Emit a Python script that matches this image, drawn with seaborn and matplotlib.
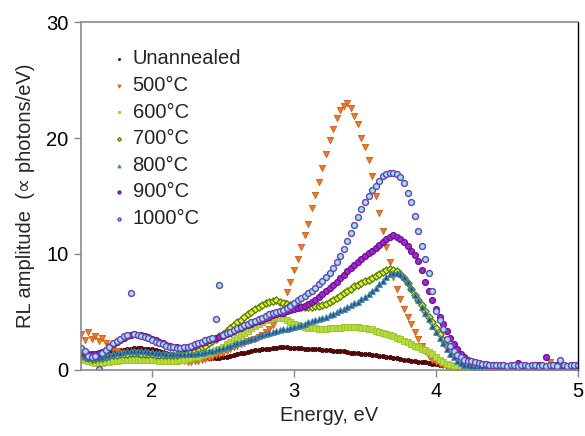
import numpy as np
import pandas as pd
import matplotlib
matplotlib.use("Agg")
import matplotlib.pyplot as plt
import seaborn as sns

# Energy grid (eV), 0.025 eV steps from 1.5 to 5.0
energy = np.round(np.arange(1.5, 5.0001, 0.025), 3)

unannealed = [
    1.3, 1.2, 1.1, 1.1, 1.1, 1.2, 1.3, 1.4, 1.5, 1.6,
    1.65, 1.7, 1.75, 1.8, 1.85, 1.9, 1.9, 1.9, 1.85, 1.85,
    1.8, 1.7, 1.65, 1.55, 1.5, 1.4, 1.35, 1.3, 1.2, 1.15,
    1.1, 1.05, 1.05, 1.0, 1.0, 1.0, 1.0, 1.0, 1.0, 1.05,
    1.1, 1.15, 1.2, 1.3, 1.35, 1.45, 1.5, 1.55, 1.6, 1.7,
    1.75, 1.8, 1.85, 1.85, 1.9, 1.9, 1.95, 1.95, 1.95, 1.9,
    1.9, 1.9, 1.9, 1.85, 1.85, 1.85, 1.8, 1.8, 1.75, 1.75,
    1.7, 1.65, 1.65, 1.6, 1.6, 1.55, 1.5, 1.5, 1.45, 1.4,
    1.35, 1.35, 1.3, 1.3, 1.2, 1.2, 1.15, 1.1, 1.05, 1.0,
    0.95, 0.9, 0.85, 0.8, 0.75, 0.7, 0.7, 0.65, 0.6, 0.55,
    0.5, 0.45, 0.4, 0.35, 0.3, 0.25, 0.2, 0.2, 0.2, 0.15,
    0.15, 0.15, 0.2, 0.15, 0.2, 0.15, 0.15, 0.2, 0.15, 0.2,
    0.15, 0.2, 0.2, 0.15, 0.2, 0.2, 0.15, 0.2, 0.2, 0.15,
    0.2, 0.15, 0.2, 0.2, 0.2, 0.15, 0.2, 0.2, 0.15, 0.2,
    0.2,
]

c500 = [
    3.1, 2.6, 3.3, 2.7, 2.9, 2.5, 2.8, 2.3, 2.1, 1.8,
    1.6, 1.5, 1.4, 1.3, 1.3, 1.2, 1.2, 1.2, 1.1, 1.1,
    1.0, 1.0, 0.95, 0.9, 0.9, 0.85, 0.8, 0.8, 0.75, 0.75,
    0.7, 0.7, 0.75, 0.8, 0.85, 0.95, 1.05, 1.15, 1.3, 1.4,
    1.5, 1.65, 1.8, 1.95, 2.1, 2.2, 2.35, 2.5, 2.6, 2.7,
    2.85, 3.0, 3.25, 3.5, 3.9, 4.4, 5.0, 5.8, 6.7, 7.6,
    8.6, 9.6, 10.6, 11.6, 12.6, 14.0, 15.1, 16.2, 17.4, 18.6,
    19.8, 20.8, 21.7, 22.4, 22.8, 23.0, 22.6, 21.9, 21.2, 20.0,
    19.2, 18.1, 16.7, 15.0, 13.5, 12.0, 10.6, 9.3, 8.0, 7.0,
    6.1, 5.3, 4.6, 4.0, 3.3, 2.7, 2.1, 1.6, 1.2, 0.9,
    0.7, 0.5, 0.4, 0.35, 0.3, 0.25, 0.3, 0.25, 0.3, 0.3,
    0.25, 0.3, 0.35, 0.3, 0.3, 0.35, 0.3, 0.3, 0.35, 0.3,
    0.3, 0.35, 0.3, 0.4, 0.3, 0.35, 0.3, 0.35, 0.4, 0.3,
    0.35, 0.3, 0.7, 0.35, 0.4, 0.3, 0.35, 0.3, 0.35, 0.3,
    0.35,
]

c600 = [
    1.0, 0.9, 0.8, 0.7, 0.6, 0.6, 0.6, 0.65, 0.7, 0.75,
    0.8, 0.85, 0.9, 0.9, 0.9, 0.9, 0.9, 0.9, 0.9, 0.9,
    0.85, 0.85, 0.8, 0.8, 0.8, 0.8, 0.8, 0.8, 0.85, 0.9,
    0.95, 1.0, 1.1, 1.15, 1.25, 1.35, 1.45, 1.55, 1.7, 1.85,
    2.0, 2.2, 2.4, 2.6, 2.8, 3.0, 3.2, 3.4, 3.6, 3.8,
    4.0, 4.15, 4.3, 4.4, 4.5, 4.55, 4.5, 4.45, 4.3, 4.15,
    4.0, 3.9, 3.8, 3.7, 3.65, 3.6, 3.6, 3.55, 3.55, 3.55,
    3.6, 3.6, 3.65, 3.65, 3.7, 3.7, 3.7, 3.7, 3.7, 3.65,
    3.6, 3.55, 3.5, 3.4, 3.3, 3.2, 3.1, 3.0, 2.9, 2.8,
    2.65, 2.5, 2.4, 2.25, 2.1, 1.95, 1.8, 1.7, 1.55, 1.4,
    1.15, 0.9, 0.65, 0.5, 0.4, 0.35, 0.3, 0.25, 0.25, 0.2,
    0.25, 0.2, 0.25, 0.2, 0.25, 0.25, 0.2, 0.25, 0.2, 0.25,
    0.2, 0.25, 0.2, 0.25, 0.25, 0.2, 0.25, 0.2, 0.25, 0.2,
    0.25, 0.2, 0.25, 0.2, 0.25, 0.25, 0.2, 0.25, 0.2, 0.25,
    0.3,
]

c700 = [
    1.3, 1.1, 1.0, 0.95, 0.95, 1.0, 1.05, 1.1, 1.2, 1.25,
    1.3, 1.35, 1.4, 1.4, 1.45, 1.45, 1.45, 1.4, 1.4, 1.35,
    1.35, 1.3, 1.3, 1.25, 1.25, 1.25, 1.3, 1.3, 1.35, 1.4,
    1.45, 1.55, 1.65, 1.8, 1.95, 2.1, 2.3, 2.5, 2.7, 2.9,
    3.1, 3.35, 3.6, 3.85, 4.1, 4.35, 4.6, 4.8, 5.0, 5.25,
    5.45, 5.6, 5.8, 5.9, 5.95, 6.0, 5.9, 5.8, 5.7, 5.6,
    5.5, 5.45, 5.4, 5.4, 5.4, 5.45, 5.5, 5.55, 5.6, 5.7,
    5.85, 6.0, 6.2, 6.4, 6.6, 6.8, 7.0, 7.2, 7.35, 7.5,
    7.65, 7.8, 7.95, 8.1, 8.3, 8.45, 8.6, 8.7, 8.65, 8.5,
    8.25, 7.9, 7.5, 7.0, 6.5, 6.0, 5.6, 5.1, 4.6, 4.1,
    3.6, 3.1, 2.6, 2.1, 1.7, 1.4, 1.1, 0.85, 0.65, 0.5,
    0.4, 0.35, 0.3, 0.3, 0.25, 0.3, 0.25, 0.3, 0.3, 0.25,
    0.3, 0.25, 0.3, 0.3, 0.25, 0.3, 0.3, 0.25, 0.3, 0.3,
    0.25, 0.3, 0.3, 0.25, 0.3, 0.3, 0.25, 0.3, 0.3, 0.25,
    0.4,
]

c800 = [
    1.4, 1.2, 1.05, 1.0, 1.0, 1.05, 1.1, 1.2, 1.3, 1.35,
    1.45, 1.5, 1.55, 1.6, 1.6, 1.65, 1.65, 1.6, 1.6, 1.55,
    1.55, 1.5, 1.45, 1.45, 1.4, 1.4, 1.35, 1.35, 1.35, 1.35,
    1.35, 1.4, 1.4, 1.45, 1.5, 1.55, 1.6, 1.65, 1.7, 1.8,
    1.9, 2.0, 2.1, 2.2, 2.3, 2.4, 2.5, 2.6, 2.7, 2.8,
    2.9, 3.0, 3.1, 3.2, 3.3, 3.35, 3.45, 3.5, 3.55, 3.6,
    3.7, 3.8, 3.9, 4.0, 4.1, 4.2, 4.3, 4.4, 4.5, 4.6,
    4.7, 4.85, 5.0, 5.15, 5.3, 5.45, 5.6, 5.75, 5.9, 6.1,
    6.3, 6.55, 6.8, 7.1, 7.4, 7.7, 8.0, 8.25, 8.4, 8.4,
    8.3, 8.0, 7.6, 7.1, 6.5, 6.0, 5.4, 4.9, 4.4, 3.8,
    3.3, 2.8, 2.3, 1.8, 1.4, 1.1, 0.8, 0.6, 0.45, 0.4,
    0.35, 0.3, 0.3, 0.25, 0.3, 0.3, 0.25, 0.3, 0.3, 0.25,
    0.3, 0.3, 0.25, 0.3, 0.3, 0.25, 0.3, 0.3, 0.25, 0.3,
    0.3, 0.25, 0.3, 0.3, 0.25, 0.3, 0.3, 0.25, 0.3, 0.3,
    0.3,
]

c900 = [
    1.7, 1.5, 1.4, 1.35, 1.4, 1.45, 1.55, 1.7, 1.95, 2.2,
    2.4, 2.6, 2.8, 2.95, 3.05, 3.1, 3.05, 3.0, 2.95, 2.85,
    2.7, 2.55, 2.4, 2.3, 2.15, 2.05, 2.0, 1.95, 1.9, 1.9,
    1.95, 2.0, 2.1, 2.2, 2.3, 2.45, 2.55, 2.65, 2.75, 2.85,
    2.95, 3.1, 3.2, 3.35, 3.5, 3.6, 3.75, 3.85, 4.0, 4.1,
    4.25, 4.35, 4.5, 4.6, 4.7, 4.8, 4.9, 4.95, 5.05, 5.15,
    5.25, 5.35, 5.45, 5.55, 5.7, 5.85, 6.05, 6.3, 6.55, 6.8,
    7.05, 7.3, 7.6, 7.9, 8.2, 8.5, 8.8, 9.05, 9.3, 9.55,
    9.8, 10.05, 10.3, 10.55, 10.8, 11.05, 11.3, 11.5, 11.6, 11.5,
    11.3, 11.0, 10.7, 10.3, 9.9, 9.4, 8.6, 7.6, 6.8, 6.0,
    5.3, 4.6, 4.0, 3.4, 2.8, 2.2, 1.8, 1.4, 1.1, 0.9,
    0.8, 0.7, 0.6, 0.55, 0.5, 0.45, 0.4, 0.4, 0.35, 0.4,
    0.35, 0.4, 0.35, 0.6, 0.35, 0.4, 0.35, 0.4, 0.35, 0.4,
    0.35, 1.1, 0.4, 0.35, 0.4, 0.35, 0.4, 0.35, 0.4, 0.35,
    0.4,
]

c1000 = [
    1.9, 1.6, 1.2, 1.1, 1.2, 0.05, 1.5, 1.7, 2.0, 2.3,
    2.5, 2.7, 2.9, 3.0, 6.6, 3.1, 3.0, 2.95, 2.85, 2.75,
    2.6, 2.45, 2.3, 2.2, 2.1, 2.0, 1.95, 1.9, 1.9, 1.95,
    2.0, 2.1, 2.2, 2.3, 2.4, 2.55, 2.65, 2.75, 4.4, 7.3,
    3.0, 3.15, 3.3, 3.45, 3.6, 3.7, 3.85, 4.0, 4.1, 4.25,
    4.4, 4.5, 4.65, 4.8, 4.9, 5.0, 5.1, 5.2, 5.35, 5.55,
    5.8, 6.0, 6.2, 6.4, 6.6, 6.85, 7.1, 7.4, 7.7, 8.05,
    8.4, 8.8, 9.3, 9.8, 10.4, 11.1, 11.8, 12.5, 13.2, 13.9,
    14.5, 15.0, 15.5, 15.9, 16.3, 16.7, 16.9, 17.0, 17.0, 16.9,
    16.6, 16.1, 15.3, 14.5, 13.3, 12.0, 10.7, 9.6, 8.4, 6.8,
    5.1, 4.3, 3.5, 2.7, 2.1, 1.6, 1.3, 1.1, 0.9, 0.8,
    0.75, 0.65, 0.6, 0.55, 0.5, 0.45, 0.45, 0.4, 0.4, 0.4,
    0.35, 0.4, 0.45, 0.35, 0.4, 0.45, 0.35, 0.4, 0.45, 0.35,
    0.4, 0.35, 0.45, 0.4, 0.35, 0.9, 0.4, 0.35, 0.45, 0.4,
    0.4,
]

labels = ["Unannealed", "500°C", "600°C", "700°C", "800°C", "900°C", "1000°C"]
series = [unannealed, c500, c600, c700, c800, c900, c1000]

styles = {
    "Unannealed": dict(marker="o", s=10, color="#5a0a0a", edgecolor="#3a0000", linewidth=0.5),
    "500°C": dict(marker="v", s=20, color="#ee7a22", edgecolor="#d55a12", linewidth=0.6),
    "600°C": dict(marker="s", s=13, color="#b4dc3a", edgecolor="#9cc02a", linewidth=0.6),
    "700°C": dict(marker="D", s=14, color="#e6f21e", edgecolor="#4f7d12", linewidth=0.9),
    "800°C": dict(marker="^", s=16, color="#2146b4", edgecolor="#3f8a98", linewidth=0.8),
    "900°C": dict(marker="o", s=18, color="#b21ee0", edgecolor="#5e1a80", linewidth=0.9),
    "1000°C": dict(marker="o", s=18, color="#86eef6", edgecolor="#7a38b0", linewidth=1.0),
}

df = pd.concat(
    [pd.DataFrame({"Energy": energy, "Amplitude": vals, "Sample": lab})
     for lab, vals in zip(labels, series)],
    ignore_index=True,
)

sns.set_style("white")
plt.rcParams["font.family"] = ["Liberation Sans", "DejaVu Sans"]

fig = plt.figure(figsize=(5.85, 4.36), dpi=100)
ax = fig.add_axes([0.1385, 0.1514, 0.8495, 0.7981])

for lab in labels:
    sub = df[df["Sample"] == lab]
    sns.scatterplot(data=sub, x="Energy", y="Amplitude", ax=ax, label=lab,
                    **styles[lab])

ax.set_xlim(1.5, 5.0)
ax.set_ylim(0, 30)
ax.set_xticks([2, 3, 4, 5])
ax.set_yticks([0, 10, 20, 30])
ax.tick_params(axis="both", which="major", labelsize=14.5, direction="out",
               length=5, width=1, color="#888888", labelcolor="black", pad=4)
ax.tick_params(left=True, bottom=True)
for side in ["left", "bottom", "top"]:
    ax.spines[side].set_color("#8a8a8a")
    ax.spines[side].set_linewidth(1.2)
ax.spines["right"].set_color("black")
ax.spines["right"].set_linewidth(1.0)

ax.set_xlabel("Energy, eV", fontsize=14.5, labelpad=3)
ax.set_ylabel("RL amplitude  (\u221d photons/eV)", fontsize=14.5, labelpad=8)

leg = ax.legend(loc="upper left", bbox_to_anchor=(0.045, 0.945), frameon=False,
                fontsize=14.5, markerscale=0.5, handletextpad=0.25,
                labelspacing=0.38, handlelength=0.8, borderaxespad=0.0)

fig.savefig("out.png", dpi=100)
